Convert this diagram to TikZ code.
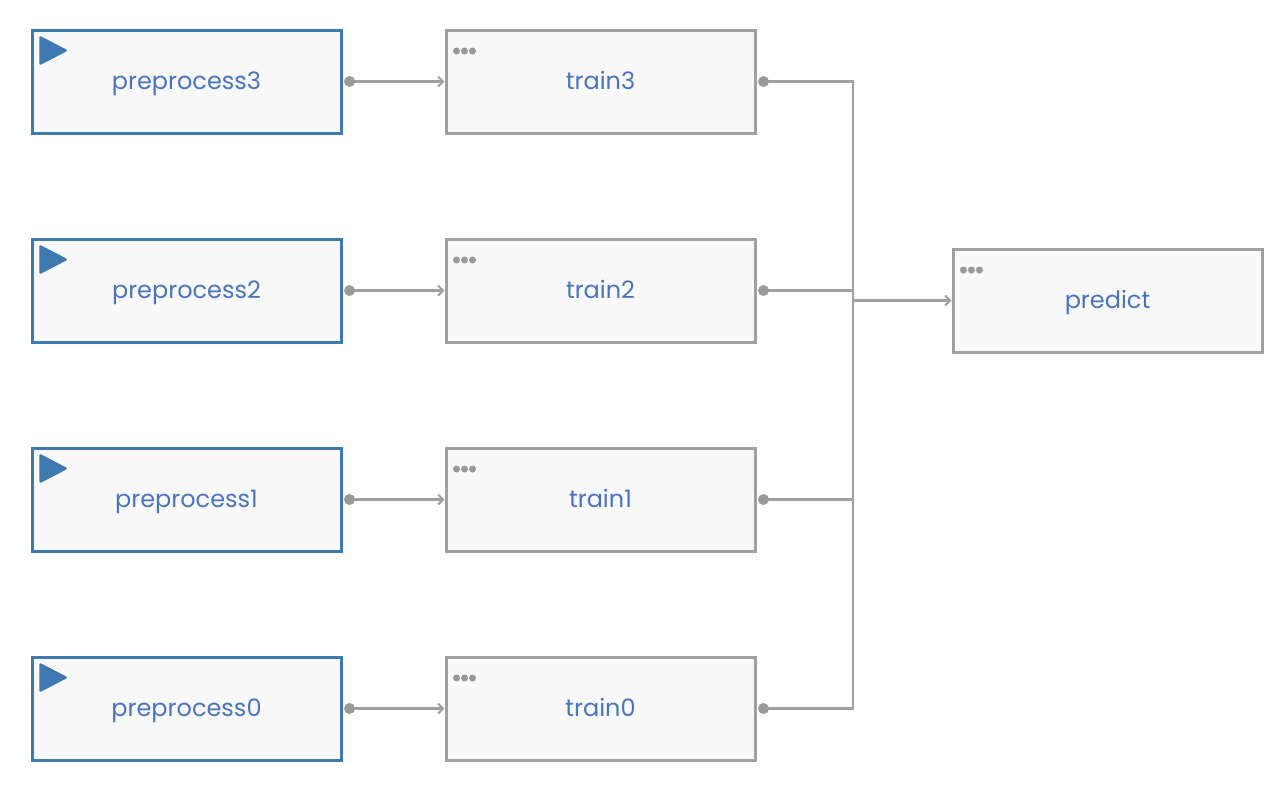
\documentclass[tikz,border=0pt]{standalone}
\usepackage{fontspec}
\setmainfont{Poppins}
\usetikzlibrary{arrows.meta}
\definecolor{bluebd}{HTML}{3E79AF}
\definecolor{graybd}{HTML}{A0A0A0}
\definecolor{boxfill}{HTML}{F9F9F9}
\definecolor{txtblue}{HTML}{4A74C0}
\definecolor{dotgray}{HTML}{999999}
\tikzset{
  base/.style={rectangle, minimum width=309pt, minimum height=103pt, fill=boxfill, line width=3pt, inner sep=0pt, font=\fontsize{24}{28}\selectfont, text=txtblue, text height=20pt, text depth=4.5pt},
  prebox/.style={base, draw=bluebd},
  trbox/.style={base, draw=graybd},
  conn/.style={draw=graybd, line width=2.5pt},
  arr/.style={conn, -{Straight Barb[length=5pt,width=10pt,line width=2pt]}},
  portdot/.style={fill=dotgray},
}
\newcommand{\playicon}[1]{%
  \fill[bluebd, draw=bluebd, line width=2.5pt, line join=round] ([xshift=10pt,yshift=-9pt]#1.north west) -- ([xshift=10pt,yshift=-35pt]#1.north west) -- ([xshift=35pt,yshift=-22pt]#1.north west) -- cycle;}
\newcommand{\menudots}[1]{%
  \foreach \dx in {12,20,28} {\fill[dotgray] ([xshift=\dx pt,yshift=-22.5pt]#1.north west) circle (3.5pt);}}
\begin{document}
\begin{tikzpicture}[x=1pt,y=-1pt]
\useasboundingbox (0,0) rectangle (1286,796);
% preprocess
\node[prebox] (p3) at (186.5,81.5) {preprocess3};
\node[prebox] (p2) at (186.5,290.5) {preprocess2};
\node[prebox] (p1) at (186.5,499.5) {preprocess1};
\node[prebox] (p0) at (186.5,708.5) {preprocess0};
% train
\node[trbox] (t3) at (600.5,81.5) {train3};
\node[trbox] (t2) at (600.5,290.5) {train2};
\node[trbox] (t1) at (600.5,499.5) {train1};
\node[trbox] (t0) at (600.5,708.5) {train0};
% predict
\node[trbox] (pr) at (1107.5,300.5) {predict};
\foreach \n in {p3,p2,p1,p0} {\playicon{\n}}
\foreach \n in {t3,t2,t1,t0,pr} {\menudots{\n}}
% preprocess -> train
\foreach \a/\b in {p3/t3,p2/t2,p1/t1,p0/t0} {
  \draw[arr] ([xshift=7pt]\a.east) -- (\b.west);
  \fill[portdot] ([xshift=7pt]\a.east) circle (5.5pt);
}
% trunk
\coordinate (jt) at (853,81.5);
\coordinate (jb) at (853,708.5);
\draw[conn] ([xshift=7pt]t3.east) -- (jt) -- (jb) -- ([xshift=7pt]t0.east);
\draw[conn] ([xshift=7pt]t2.east) -- (t2.east -| jt);
\draw[conn] ([xshift=7pt]t1.east) -- (t1.east -| jt);
\draw[arr] (pr.west -| jt) -- (pr.west);
\foreach \n in {t3,t2,t1,t0} {\fill[portdot] ([xshift=7pt]\n.east) circle (5.5pt);}
\end{tikzpicture}
\end{document}
